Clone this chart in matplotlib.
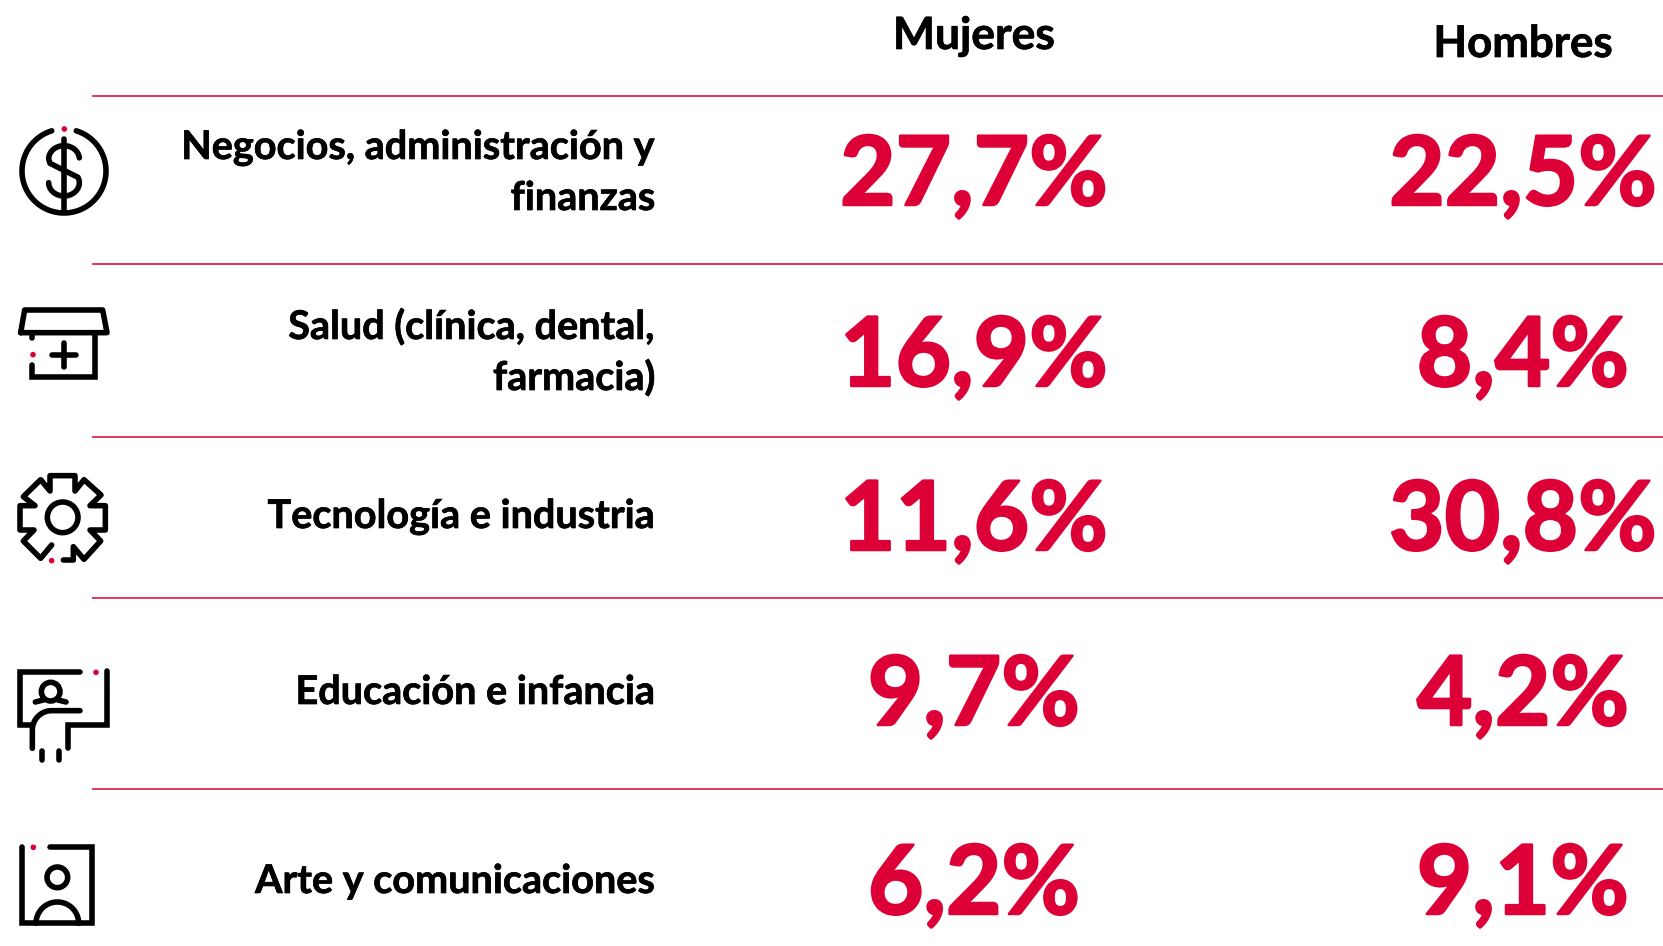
import numpy as np
import matplotlib
matplotlib.use("Agg")
import matplotlib.pyplot as plt
import matplotlib.patheffects as pe
from matplotlib.patches import Circle

categories = ["Negocios, administración y\nfinanzas", "Salud (clínica, dental,\nfarmacia)",
              "Tecnología e industria", "Educación e infancia", "Arte y comunicaciones"]
mujeres = [27.7, 16.9, 11.6, 9.7, 6.2]
hombres = [22.5, 8.4, 30.8, 4.2, 9.1]
columns = ["Mujeres", "Hombres"]

RED = "#DC0036"
W, H = 1663, 946
fig = plt.figure(figsize=(W / 100, H / 100), dpi=100)
ax = fig.add_axes([0, 0, 1, 1])
ax.set_xlim(0, W); ax.set_ylim(H, 0); ax.axis("off")
FONT = "Lato"
LW = 4.0

def fmt(v):
    return f"{v:.1f}".replace(".", ",") + "%"

def label(x, y, s, size, color, ha, stroke):
    t = ax.text(x, y, s, ha=ha, va="baseline", fontsize=size, fontweight="bold", family=FONT, color=color)
    t.set_path_effects([pe.withStroke(linewidth=stroke, foreground=color)])

rules = [96, 264.5, 436.5, 597.5, 788.5]
val_base = [205, 386, 550, 725, 914]
lab_base = [[159, 210], [339, 390], [528], [704], [893]]
for y in rules:
    ax.plot([92, W], [y, y], color=RED, lw=1.1, solid_capstyle="butt")
label(974, 49, columns[0], 32, "black", "center", 0.5)
label(1523, 57, columns[1], 31.5, "black", "center", 0.5)
for i, c in enumerate(categories):
    for line, yb in zip(c.split("\n"), lab_base[i]):
        label(655.5, yb, line, 28.5, "black", "right", 0.5)
    label(974, val_base[i], fmt(mujeres[i]), 69, RED, "center", 1.8)
    label(1523, val_base[i], fmt(hombres[i]), 69, RED, "center", 1.8)

# --- icons, traced in zoom coordinates (3x) ---
def Z(pts, y0, x0=0):
    a = np.array(pts, float)
    return x0 + a[:, 0] / 3, y0 + a[:, 1] / 3
def path(pts, y0, join="round", x0=0):
    x, y = Z(pts, y0, x0)
    ax.plot(x, y, color="black", lw=LW, solid_capstyle="round", solid_joinstyle=join)
def circ(cx, cy, r, y0, x0=0):
    ax.add_patch(Circle((x0 + cx / 3, y0 + cy / 3), r / 3, fill=False, ec="black", lw=LW))
def dot(cx, cy, y0, x0=0):
    ax.add_patch(Circle((x0 + cx / 3, y0 + cy / 3), 2.8, fc=RED, ec="none"))
def curve(cx, cy, rx, ry, a1, a2, n=40):
    t = np.radians(np.linspace(a1, a2, n))
    return [tuple(p) for p in np.c_[cx + rx * np.cos(t), cy + ry * np.sin(t)]]

# dollar
y0 = 100
path(curve(192, 213, 126, 126, -73, 253, 120), y0)
dot(193, 87, y0)
path([(193, 118), (193, 335)], y0)
path(curve(192, 177, 46, 40, -5, -180) + [(150, 190), (234, 232)] + curve(192, 248, 46, 40, -10, 180), y0)

# box with cross
path([(62, 698), (74, 630), (308, 630), (321, 698), (62, 698)], y0)
path([(284, 698), (284, 830), (97, 830), (97, 795)], y0, "miter")
path([(97, 698), (97, 715)], y0)
dot(99, 764, y0)
path([(155, 764), (228, 764)], y0)
path([(192, 730), (192, 800)], y0)

# gear
path([(160, 285), (190, 285), (190, 245), (222, 283), (272, 228), (240, 195), (286, 195), (286, 122), (240, 122),
      (273, 90), (222, 44), (195, 78), (195, 32), (120, 32), (120, 78), (92, 44), (40, 95), (75, 122), (30, 122),
      (30, 195), (72, 195), (40, 228), (92, 280), (125, 240)], 465, x0=10)
circ(158, 157, 46, 465, x0=10)
dot(125, 287, 465, x0=10)

# presenter
y0 = 460
path([(240, 636), (60, 636), (60, 795), (97, 795)], y0, "miter")
path([(322, 634), (322, 795), (205, 795), (205, 865)], y0, "miter")
path([(240, 752)] + curve(155, 810, 58, 58, -90, -180, 20) + [(97, 865)], y0)
path([(125, 872), (125, 900)], y0)
path([(177, 872), (177, 900)], y0)
circ(152, 695, 28, y0)
path([(106, 726), (130, 720)], y0)
path([(174, 720), (198, 726)], y0)
dot(288, 637, y0)

# portrait
path([(65, 1160), (65, 1390), (277, 1390), (277, 1162), (150, 1162)], y0, "miter")
circ(172, 1252, 31, y0)
path(curve(172, 1390, 64, 64, 180, 360), y0)
dot(100, 1162, y0)

fig.savefig("out.png", dpi=100)
